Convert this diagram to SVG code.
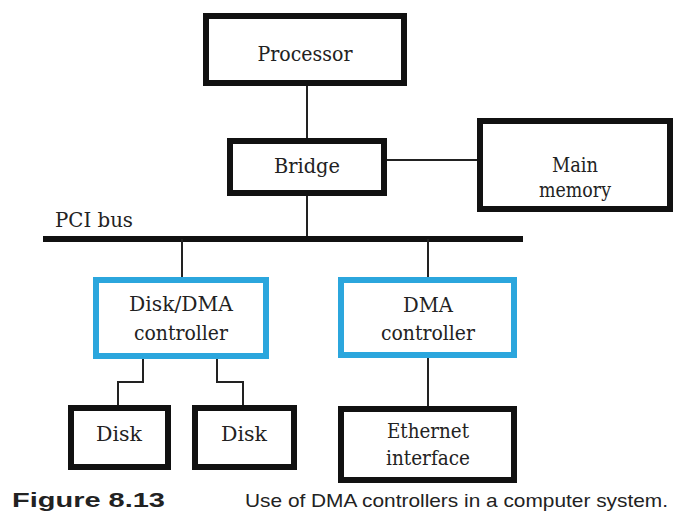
<svg xmlns="http://www.w3.org/2000/svg" width="680" height="515" viewBox="0 0 680 515">
<style>
.box{fill:#fff;stroke:#111;stroke-width:6}
.blue{fill:#fff;stroke:#2ba6dd;stroke-width:6}
.t{font-family:'DejaVu Serif','Liberation Serif',serif;font-size:21px;fill:#222;text-anchor:middle}
.c{fill:none;stroke:#222;stroke-width:2}
.cap{font-family:'Liberation Sans',Arial,sans-serif;fill:#222}
</style>
<rect width="680" height="515" fill="#fff"/>
<g id="connectors">
<line class="c" x1="307" y1="86" x2="307" y2="138"/>
<line class="c" x1="387" y1="160" x2="477" y2="160"/>
<line class="c" x1="307" y1="196" x2="307" y2="239"/>
<line x1="43" y1="239" x2="523" y2="239" stroke="#111" stroke-width="6"/>
<line class="c" x1="182" y1="239" x2="182" y2="277"/>
<line class="c" x1="428" y1="239" x2="428" y2="277"/>
<polyline class="c" points="143,359 143,382 118,382 118,405"/>
<polyline class="c" points="217,359 217,382 243,382 243,405"/>
<line class="c" x1="428" y1="358" x2="428" y2="406"/>
</g>
<g id="processor"><rect class="box" x="206" y="16" width="198" height="67"/><text class="t" x="305" y="61" textLength="95" lengthAdjust="spacingAndGlyphs">Processor</text></g>
<g id="bridge"><rect class="box" x="230" y="141" width="154" height="52"/><text class="t" x="307" y="173" textLength="66" lengthAdjust="spacingAndGlyphs">Bridge</text></g>
<g id="main-memory"><rect class="box" x="480" y="121" width="190" height="88"/><text class="t" x="575" y="172" textLength="46" lengthAdjust="spacingAndGlyphs">Main</text><text class="t" x="575" y="197" textLength="72" lengthAdjust="spacingAndGlyphs">memory</text></g>
<g id="pci-bus-label"><text class="t" x="55" y="227" style="text-anchor:start" textLength="78" lengthAdjust="spacingAndGlyphs">PCI bus</text></g>
<g id="disk-dma-controller"><rect class="blue" x="96" y="280" width="170" height="76"/><text class="t" x="181" y="311" textLength="104" lengthAdjust="spacingAndGlyphs">Disk/DMA</text><text class="t" x="181" y="340" textLength="94" lengthAdjust="spacingAndGlyphs">controller</text></g>
<g id="dma-controller"><rect class="blue" x="341" y="280" width="173" height="75"/><text class="t" x="428" y="312" textLength="50" lengthAdjust="spacingAndGlyphs">DMA</text><text class="t" x="428" y="340" textLength="94" lengthAdjust="spacingAndGlyphs">controller</text></g>
<g id="disk1"><rect class="box" x="71" y="408" width="97" height="59"/><text class="t" x="119" y="441" textLength="46" lengthAdjust="spacingAndGlyphs">Disk</text></g>
<g id="disk2"><rect class="box" x="195" y="408" width="99" height="59"/><text class="t" x="244" y="441" textLength="46" lengthAdjust="spacingAndGlyphs">Disk</text></g>
<g id="ethernet-interface"><rect class="box" x="341" y="409" width="173" height="71"/><text class="t" x="428" y="438" textLength="82" lengthAdjust="spacingAndGlyphs">Ethernet</text><text class="t" x="428" y="465" textLength="84" lengthAdjust="spacingAndGlyphs">interface</text></g>
<g id="caption">
<text class="cap" x="12" y="507" font-size="21" font-weight="bold" textLength="153" lengthAdjust="spacingAndGlyphs">Figure 8.13</text>
<text class="cap" x="245" y="507" font-size="19" textLength="423" lengthAdjust="spacingAndGlyphs">Use of DMA controllers in a computer system.</text>
</g>
</svg>
